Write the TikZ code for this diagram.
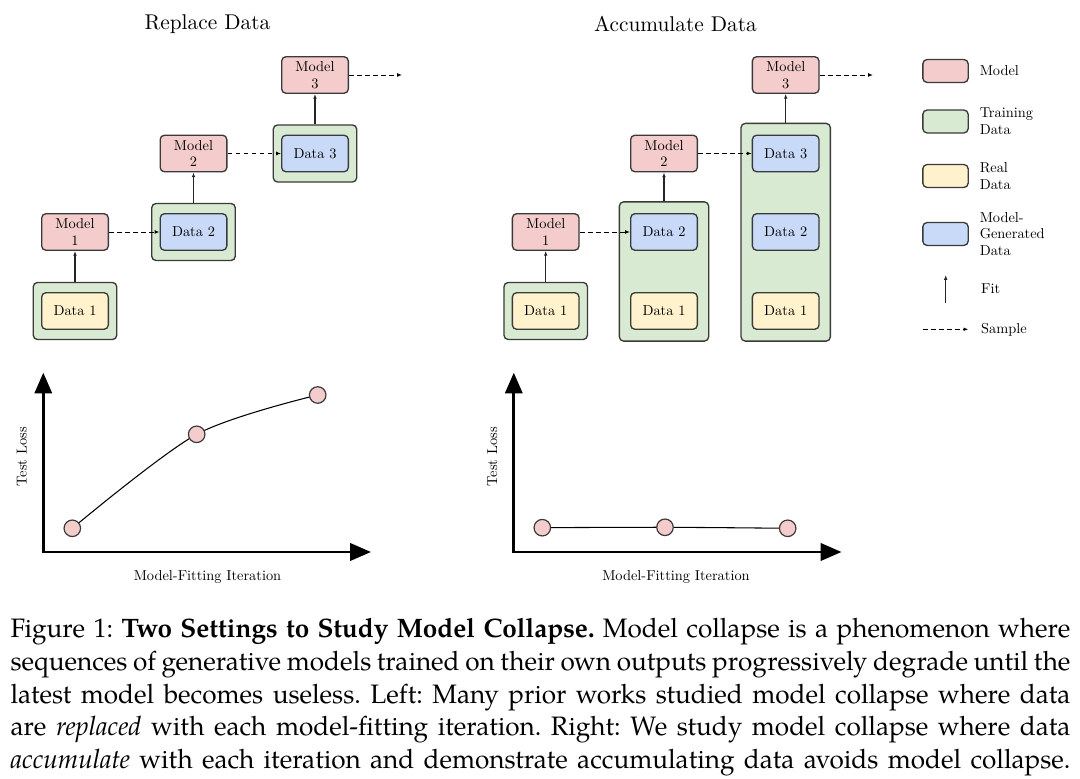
\documentclass[tikz,border=0pt]{standalone}
\usepackage{fontspec}
\newfontfamily\capfont{texgyrepagella}[Extension=.otf, UprightFont=*-regular, BoldFont=*-bold, ItalicFont=*-italic, BoldItalicFont=*-bolditalic, FakeStretch=0.98]
\newfontfamily\diagfont{lmroman10}[Extension=.otf, UprightFont=*-regular]
\newcommand\capspacing{\frenchspacing\spaceskip=2.5pt plus 2pt minus 1.3pt\relax}
\usetikzlibrary{arrows.meta,fit,backgrounds,positioning}
\definecolor{modelred}{HTML}{F4CCCC}
\definecolor{traingreen}{HTML}{D9EAD3}
\definecolor{realyellow}{HTML}{FFF2CC}
\definecolor{genblue}{HTML}{C9DAF8}
\definecolor{boxline}{HTML}{3A3A3A}
\begin{document}
\begin{tikzpicture}[x=0.375pt, y=-0.375pt,
  every node/.style={font=\diagfont\fontsize{5.4}{6.3}\selectfont},
  box/.style={draw=boxline, line width=0.5pt, rounded corners=1.6pt, minimum width=25pt, minimum height=13.7pt, inner sep=0.5pt, align=center},
  modelbox/.style={box, fill=modelred},
  realbox/.style={box, fill=realyellow},
  genbox/.style={box, fill=genblue},
  trainbox/.style={box, fill=traingreen, inner xsep=2.9pt, inner ysep=3.6pt},
  widetrain/.style={trainbox, inner xsep=4pt, inner ysep=4.2pt},
  swatch/.style={box, minimum width=17pt, minimum height=8.6pt},
  legtext/.style={inner sep=0.8pt, align=left, right=3.1pt of #1},
  fitarrow/.style={-{Latex[length=1.8pt,width=1.4pt]}, line width=0.45pt, draw=black!85},
  samplearrow/.style={-{Latex[length=1.8pt,width=1.4pt]}, line width=0.35pt, dash pattern=on 1.8pt off 1.2pt},
  axis/.style={{Triangle[length=7.8pt,width=6.5pt]}-{Triangle[length=7.8pt,width=6.5pt]}, line width=1pt},
  lossline/.style={line width=0.4pt},
  point/.style={circle, draw=boxline, fill=modelred, line width=0.45pt, minimum size=6.2pt, inner sep=0pt},
  title/.style={font=\diagfont\fontsize{8}{9.6}\selectfont}]
  \useasboundingbox (0,0) rectangle (1080,779);

  \node[title] (replacetitle) at (207.5,24) {Replace Data};
  \node[title] (accumtitle) at (675.5,24) {Accumulate Data};

  % replace data
  \node[modelbox] (rm1) at (75,232) {Model\\1};
  \node[realbox] (rd1) at (75,311) {Data 1};
  \node[modelbox] (rm2) at (193.5,153.5) {Model\\2};
  \node[genbox] (rd2) at (193.5,232) {Data 2};
  \node[modelbox] (rm3) at (315,75) {Model\\3};
  \node[genbox] (rd3) at (315,153.5) {Data 3};
  \coordinate (rnext) at (402,75);
  \begin{scope}[on background layer]
    \node[trainbox, fit=(rd1)] (rt1) {};
    \node[trainbox, fit=(rd2)] (rt2) {};
    \node[trainbox, fit=(rd3)] (rt3) {};
  \end{scope}
  \draw[fitarrow] (rt1) -- (rm1);
  \draw[fitarrow] (rt2) -- (rm2);
  \draw[fitarrow] (rt3) -- (rm3);
  \draw[samplearrow] (rm1) -- (rd2);
  \draw[samplearrow] (rm2) -- (rd3);
  \draw[samplearrow] (rm3) -- (rnext);

  % accumulate data
  \node[modelbox] (am1) at (545.7,232) {Model\\1};
  \node[realbox] (ad1) at (545.7,311) {Data 1};
  \node[modelbox] (am2) at (664,153.5) {Model\\2};
  \node[genbox] (ad2) at (664,232) {Data 2};
  \node[realbox] (ad2r) at (664,311) {Data 1};
  \node[modelbox] (am3) at (785.7,75) {Model\\3};
  \node[genbox] (ad3) at (785.7,153.5) {Data 3};
  \node[genbox] (ad3g) at (785.7,232) {Data 2};
  \node[realbox] (ad3r) at (785.7,311) {Data 1};
  \coordinate (anext) at (873,75);
  \begin{scope}[on background layer]
    \node[trainbox, fit=(ad1)] (at1) {};
    \node[widetrain, fit=(ad2)(ad2r)] (at2) {};
    \node[widetrain, fit=(ad3)(ad3r)] (at3) {};
  \end{scope}
  \draw[fitarrow] (at1) -- (am1);
  \draw[fitarrow] (at2.north) -- (am2);
  \draw[fitarrow] (at3.north) -- (am3);
  \draw[samplearrow] (am1) -- (ad2);
  \draw[samplearrow] (am2) -- (ad3);
  \draw[samplearrow] (am3) -- (anext);

  % legend
  \node[swatch, fill=modelred] (lgmodel) at (945.5,71) {};
  \node[legtext=lgmodel] (lgmodeltxt) {Model};
  \node[swatch, fill=traingreen] (lgtrain) at (945.5,121.5) {};
  \node[legtext=lgtrain] (lgtraintxt) {Training\\Data};
  \node[swatch, fill=realyellow] (lgreal) at (945.5,176) {};
  \node[legtext=lgreal] (lgrealtxt) {Real\\Data};
  \node[swatch, fill=genblue] (lggen) at (945.5,234) {};
  \node[legtext=lggen] (lggentxt) {Model-\\Generated\\Data};
  \coordinate (lgfitlow) at (945.7,303.5);
  \coordinate (lgfithigh) at (945.7,275);
  \draw[fitarrow] (lgfitlow) -- (lgfithigh);
  \node[inner sep=0.8pt, anchor=west] (lgfittxt) at (978.5,288.5) {Fit};
  \coordinate (lgsamplea) at (922.7,329.3);
  \coordinate (lgsampleb) at (968.3,329.3);
  \draw[samplearrow] (lgsamplea) -- (lgsampleb);
  \node[inner sep=0.8pt, anchor=west] (lgsampletxt) at (978.5,330) {Sample};

  % test loss plots
  \coordinate (lo) at (43.3,552);
  \coordinate (ly) at (43.3,372.7);
  \coordinate (lx) at (371,552);
  \draw[axis] (ly) -- (lo) -- (lx);
  \coordinate (lp1) at (72.3,528.3);
  \coordinate (lp2) at (196.7,434.3);
  \coordinate (lp3) at (317.7,395);
  \draw[lossline] plot[smooth] coordinates {(lp1) (lp2) (lp3)};
  \node[point] (lpt1) at (lp1) {};
  \node[point] (lpt2) at (lp2) {};
  \node[point] (lpt3) at (lp3) {};
  \node[rotate=90] (lylabel) at (21.7,456.7) {Test Loss};
  \node (lxlabel) at (207.5,577.3) {Model-Fitting Iteration};

  \coordinate (ao) at (513.8,552);
  \coordinate (ay) at (513.8,372.7);
  \coordinate (ax) at (841.5,552);
  \draw[axis] (ay) -- (ao) -- (ax);
  \coordinate (ap1) at (542.3,527.7);
  \coordinate (ap2) at (665,527.3);
  \coordinate (ap3) at (787.7,528.3);
  \draw[lossline] plot[smooth] coordinates {(ap1) (ap2) (ap3)};
  \node[point] (apt1) at (ap1) {};
  \node[point] (apt2) at (ap2) {};
  \node[point] (apt3) at (ap3) {};
  \node[rotate=90] (aylabel) at (492.2,456.7) {Test Loss};
  \node (axlabel) at (676,577.3) {Model-Fitting Iteration};

  % caption
  \node[anchor=base west, inner sep=0pt, text width=397.5pt, align=justify,
    font=\capfont\fontsize{10}{12.2}\selectfont] (caption) at (10,638)
    {\capspacing Figure 1: \textbf{Two Settings to Study Model Collapse.} Model collapse is a phenomenon where\linebreak
    sequences of generative models trained on their own outputs progressively degrade until the\linebreak
    latest model becomes useless. Left: Many prior works studied model collapse where data\linebreak
    are \textit{replaced} with each model-fitting iteration. Right: We study model collapse where data\linebreak
    \textit{accumulate} with each iteration and demonstrate accumulating data avoids model collapse.\parfillskip=0pt\par};
\end{tikzpicture}
\end{document}
